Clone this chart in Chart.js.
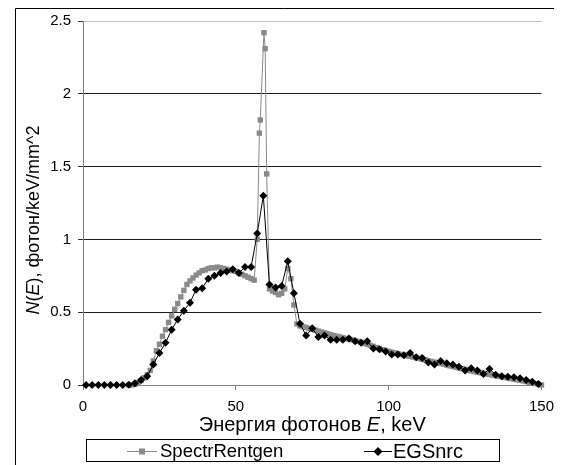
<!DOCTYPE html>
<html>
<head>
<meta charset="utf-8">
<script src="https://cdn.jsdelivr.net/npm/chart.js@4"></script>
<style>
  html, body { margin: 0; padding: 0; background: #fff; }
  #wrap { width: 562px; height: 465px; }
</style>
</head>
<body>
<div id="wrap"><canvas id="chart" width="562" height="465"></canvas></div>
<script>
const FONT = '"Liberation Sans", Arial, sans-serif';

// EGSnrc spectrum, 2 keV bins
const egsEnergy = [1, 3, 5, 7, 9, 11, 13, 15, 17, 19, 21, 23, 25, 27, 29, 31, 33, 35, 37, 39,
    41, 43, 45, 47, 49, 51, 53, 55, 57, 59, 61, 63, 65, 67, 69, 71, 73, 75, 77, 79,
    81, 83, 85, 87, 89, 91, 93, 95, 97, 99, 101, 103, 105, 107, 109, 111, 113, 115, 117, 119,
    121, 123, 125, 127, 129, 131, 133, 135, 137, 139, 141, 143, 145, 147, 149];
const egsFlux = [0, 0, 0, 0, 0, 0, 0, 0.002, 0.012, 0.034, 0.06, 0.14, 0.22, 0.29, 0.38, 0.45, 0.51, 0.565, 0.655, 0.665,
    0.73, 0.75, 0.77, 0.78, 0.795, 0.77, 0.81, 0.81, 1.04, 1.30, 0.69, 0.67, 0.68, 0.85, 0.63, 0.42, 0.34, 0.39, 0.33, 0.34,
    0.31, 0.31, 0.31, 0.32, 0.30, 0.29, 0.30, 0.25, 0.245, 0.23, 0.21, 0.21, 0.205, 0.22, 0.19, 0.185, 0.155, 0.14, 0.165, 0.15,
    0.14, 0.125, 0.10, 0.115, 0.10, 0.075, 0.11, 0.07, 0.06, 0.057, 0.053, 0.046, 0.034, 0.023, 0.007];

// SpectrRentgen spectrum, 1 keV step with the tungsten K lines
const srEnergy = [15, 16, 17, 18, 19, 20, 21, 22, 23, 24, 25, 26, 27, 28, 29, 30, 31, 32, 33, 34,
    35, 36, 37, 38, 39, 40, 41, 42, 43, 44, 45, 46, 47, 48, 49, 50, 51, 52, 53, 54,
    55, 56, 57, 57.7, 58, 59.2, 59.6, 60.1, 61, 62, 63, 64, 65, 66, 67, 68, 69, 70, 71, 72,
    73, 74, 75, 76, 77, 78, 79, 80, 81, 82, 83, 84, 85, 86, 87, 88, 89, 90, 91, 92,
    93, 94, 95, 96, 97, 98, 99, 100, 101, 102, 103, 104, 105, 106, 107, 108, 109, 110, 111, 112,
    113, 114, 115, 116, 117, 118, 119, 120, 121, 122, 123, 124, 125, 126, 127, 128, 129, 130, 131, 132,
    133, 134, 135, 136, 137, 138, 139, 140, 141, 142, 143, 144, 145, 146, 147, 148, 149, 150];
const srFlux = [0, 0, 0.005, 0.015, 0.03, 0.05, 0.07, 0.10, 0.165, 0.235, 0.28, 0.335, 0.38, 0.43, 0.475, 0.52, 0.56, 0.605, 0.65, 0.69,
    0.715, 0.735, 0.755, 0.77, 0.785, 0.79, 0.80, 0.805, 0.805, 0.81, 0.805, 0.80, 0.795, 0.79, 0.785, 0.78, 0.77, 0.76, 0.75, 0.74,
    0.73, 0.72, 1.0, 1.73, 1.82, 2.42, 2.31, 1.45, 0.66, 0.645, 0.635, 0.62, 0.63, 0.66, 0.80, 0.73, 0.55, 0.42, 0.405, 0.40,
    0.395, 0.388, 0.382, 0.376, 0.37, 0.364, 0.358, 0.352, 0.346, 0.34, 0.335, 0.33, 0.325, 0.32, 0.315, 0.31, 0.305, 0.30, 0.293, 0.286,
    0.279, 0.272, 0.265, 0.257, 0.25, 0.243, 0.237, 0.231, 0.225, 0.22, 0.215, 0.21, 0.205, 0.20, 0.196, 0.192, 0.187, 0.182, 0.177, 0.172,
    0.167, 0.162, 0.157, 0.152, 0.147, 0.142, 0.137, 0.132, 0.127, 0.122, 0.117, 0.112, 0.107, 0.102, 0.097, 0.092, 0.088, 0.084, 0.08, 0.076,
    0.072, 0.068, 0.064, 0.06, 0.056, 0.052, 0.048, 0.044, 0.04, 0.036, 0.032, 0.028, 0.024, 0.019, 0.014, 0.01, 0.005, 0];

const GRAY = '#8a8a8a';

// draws text made of plain / italic pieces, centred on x
function drawRuns(ctx, runs, x, y, size) {
    const fontOf = (r) => (r.italic ? 'italic ' : '') + size + 'px ' + FONT;
    let total = 0;
    runs.forEach((r) => { ctx.font = fontOf(r); total += ctx.measureText(r.text).width; });
    let cx = x - total / 2;
    ctx.textAlign = 'left';
    ctx.textBaseline = 'middle';
    ctx.fillStyle = '#000';
    runs.forEach((r) => {
        ctx.font = fontOf(r);
        ctx.fillText(r.text, cx, y);
        cx += ctx.measureText(r.text).width;
    });
}

const decorations = {
    id: 'decorations',
    beforeDraw(chart) {
        const ctx = chart.ctx;
        ctx.save();
        ctx.strokeStyle = '#000';
        ctx.lineWidth = 1;
        ctx.beginPath();
        ctx.moveTo(15.5, 465);
        ctx.lineTo(15.5, 8.5);
        ctx.lineTo(554, 8.5);
        ctx.stroke();
        ctx.restore();
    },
    afterDraw(chart) {
        const ctx = chart.ctx;
        const area = chart.chartArea;
        ctx.save();

        // axis titles
        drawRuns(ctx, [
            { text: 'Энергия фотонов ' },
            { text: 'E', italic: true },
            { text: ', keV' }
        ], (area.left + area.right) / 2, 425, 20);

        ctx.save();
        ctx.translate(34, (area.top + area.bottom) / 2 + 17);
        ctx.rotate(-Math.PI / 2);
        drawRuns(ctx, [
            { text: 'N', italic: true },
            { text: '(' },
            { text: 'E', italic: true },
            { text: '), фотон/keV/mm^2' }
        ], 0, 0, 18);
        ctx.restore();

        // legend
        const ly = 451;
        ctx.strokeStyle = '#000';
        ctx.lineWidth = 1;
        ctx.strokeRect(86.5, 439.5, 413, 22);

        ctx.strokeStyle = GRAY;
        ctx.beginPath();
        ctx.moveTo(127, ly + 0.5);
        ctx.lineTo(157, ly + 0.5);
        ctx.stroke();
        ctx.fillStyle = GRAY;
        ctx.fillRect(139, ly - 2.5, 6, 6);

        ctx.strokeStyle = '#000';
        ctx.beginPath();
        ctx.moveTo(364, ly + 0.5);
        ctx.lineTo(392, ly + 0.5);
        ctx.stroke();
        ctx.fillStyle = '#000';
        ctx.beginPath();
        ctx.moveTo(378 - 4.5, ly + 0.5);
        ctx.lineTo(378, ly - 4);
        ctx.lineTo(378 + 4.5, ly + 0.5);
        ctx.lineTo(378, ly + 5);
        ctx.closePath();
        ctx.fill();

        ctx.textAlign = 'left';
        ctx.textBaseline = 'middle';
        ctx.fillStyle = '#000';
        ctx.font = '18.5px ' + FONT;
        ctx.fillText('SpectrRentgen', 160, ly + 1);
        ctx.font = '20px ' + FONT;
        ctx.fillText('EGSnrc', 393, ly + 1);

        ctx.restore();
    }
};

new Chart(document.getElementById('chart'), {
    type: 'scatter',
    data: {
        datasets: [
            {
                label: 'EGSnrc',
                data: egsEnergy.map((e, i) => ({ x: e, y: egsFlux[i] })),
                showLine: true,
                borderColor: '#000',
                backgroundColor: '#000',
                borderWidth: 1,
                pointStyle: 'rectRot',
                pointRadius: 4,
                pointBorderWidth: 0,
                clip: false,
                order: 0
            },
            {
                label: 'SpectrRentgen',
                data: srEnergy.map((e, i) => ({ x: e, y: srFlux[i] })),
                showLine: true,
                borderColor: GRAY,
                backgroundColor: GRAY,
                borderWidth: 1,
                pointStyle: 'rect',
                pointRadius: 3.8,
                pointBorderWidth: 0,
                clip: false,
                order: 1
            }
        ]
    },
    options: {
        responsive: false,
        animation: false,
        devicePixelRatio: 1,
        layout: { padding: { top: 21, right: 16, left: 0, bottom: 0 } },
        plugins: {
            legend: { display: false },
            tooltip: { enabled: false }
        },
        scales: {
            x: {
                type: 'linear',
                min: 0,
                max: 150,
                afterFit: (scale) => { scale.height = 80; },
                ticks: {
                    stepSize: 50,
                    maxRotation: 0,
                    padding: 8,
                    color: '#000',
                    font: { family: FONT, size: 15 }
                },
                grid: { drawOnChartArea: false, tickLength: 5, color: '#808080' },
                border: { color: '#808080' }
            },
            y: {
                min: 0,
                max: 2.5,
                afterFit: (scale) => { scale.width = 83; },
                ticks: {
                    stepSize: 0.5,
                    padding: 7,
                    color: '#000',
                    font: { family: FONT, size: 15 },
                    callback: (v) => String(v)
                },
                grid: {
                    color: (c) => (c.tick && c.tick.value === 2.5 ? '#bdbdbd' : '#1e1e1e'),
                    tickColor: '#333',
                    tickLength: 5
                },
                border: { color: '#808080' }
            }
        }
    },
    plugins: [decorations]
});
</script>
</body>
</html>
